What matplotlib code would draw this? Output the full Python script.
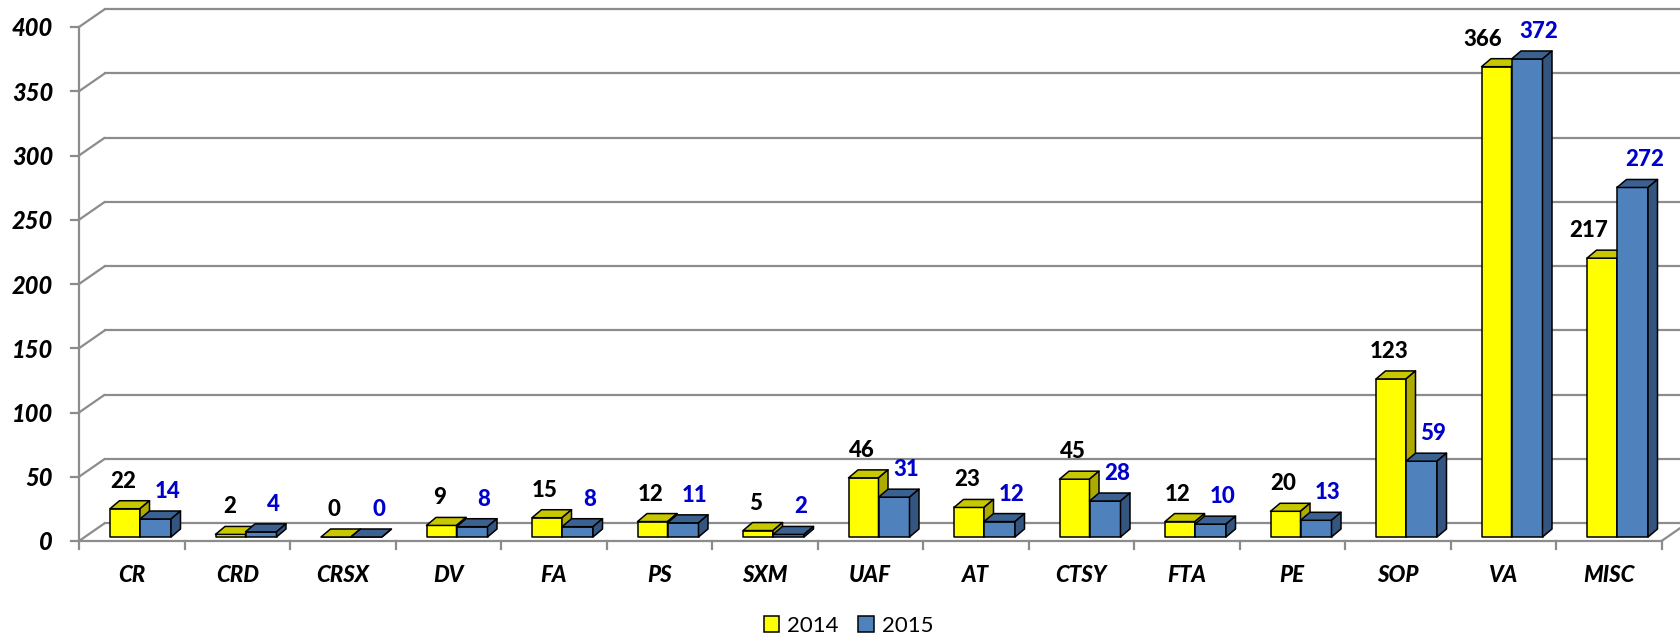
import matplotlib
matplotlib.use('Agg')
import matplotlib.pyplot as plt
from matplotlib.patches import Polygon, Patch

# ---------------- data ----------------
categories = ['CR', 'CRD', 'CRSX', 'DV', 'FA', 'PS', 'SXM', 'UAF', 'AT',
              'CTSY', 'FTA', 'PE', 'SOP', 'VA', 'MISC']
series_names = ['2014', '2015']
values_2014 = [22, 2, 0, 9, 15, 12, 5, 46, 23, 45, 12, 20, 123, 366, 217]
values_2015 = [14, 4, 0, 8, 8, 11, 2, 31, 12, 28, 10, 13, 59, 372, 272]
y_ticks = [0, 50, 100, 150, 200, 250, 300, 350, 400]

# ---------------- style ----------------
plt.rcParams['font.family'] = ['Lato', 'DejaVu Sans']
GRID = '#8c8c8c'
Y_FACE, Y_TOP, Y_SIDE = '#ffff00', '#c8c800', '#aeab00'
B_FACE, B_TOP, B_SIDE = '#4f81bd', '#3b6191', '#335580'
LBL_2015 = '#0000cc'
LBL_WEIGHT = 900
AX_WEIGHT = 900

W, H = 1680, 637
fig = plt.figure(figsize=(W / 100, H / 100), dpi=100)
ax = fig.add_axes([0, 0, 1, 1])
ax.axis('off')

PXC = 105.5   # pixels per category
PXV = 1.285   # pixels per value unit
X0, Y0 = 79, 96
ax.set_xlim(-X0 / PXC, (W - X0) / PXC)
ax.set_ylim(-Y0 / PXV, (H - Y0) / PXV)


def px(p):
    return p / PXC


def pv(p):
    return p / PXV


n = len(categories)
WDX, WDY = px(26), pv(18)
xmax = (W - X0) / PXC

# walls / gridlines
for v in y_ticks:
    ax.plot([0, WDX], [v, v + WDY], color=GRID, lw=1.6, zorder=1,
            solid_capstyle='butt')
    ax.plot([WDX, xmax], [v + WDY, v + WDY], color=GRID, lw=1.6, zorder=1)
    ax.plot([px(-8), 0], [v, v], color=GRID, lw=1.6, zorder=1)
    ax.text(px(-26), v - pv(2), str(v), ha='right', va='center',
            fontsize=17, fontweight=AX_WEIGHT, fontstyle='italic',
            color='black')

# front vertical axis and floor
ax.plot([0, 0], [0, y_ticks[-1]], color=GRID, lw=1.6, zorder=1)
ax.plot([0, n], [0, 0], color=GRID, lw=1.6, zorder=1)
ax.plot([n, n + WDX], [0, WDY], color=GRID, lw=1.6, zorder=1)
for i in range(n + 1):
    ax.plot([i, i], [0, pv(-8)], color=GRID, lw=1.6, zorder=1)

for i, c in enumerate(categories):
    ax.text(i + 0.5, pv(-35), c, ha='center', va='center', fontsize=16,
            fontweight=AX_WEIGHT, fontstyle='italic', color='black')

BDX, BDY = px(9.5), pv(8)
BASE = pv(4)


def box(x, w, h, face, top, side, z):
    x1 = x + w
    y0 = BASE
    y1 = BASE + h
    kw = dict(edgecolor='black', lw=1.1, joinstyle='round', zorder=z)
    ax.add_patch(Polygon([(x, y0), (x1, y0), (x1, y1), (x, y1)],
                         facecolor=face, **kw))
    ax.add_patch(Polygon([(x, y1), (x1, y1), (x1 + BDX, y1 + BDY),
                          (x + BDX, y1 + BDY)], facecolor=top, **kw))
    ax.add_patch(Polygon([(x1, y0), (x1 + BDX, y0 + BDY),
                          (x1 + BDX, y1 + BDY), (x1, y1)],
                         facecolor=side, **kw))


YW, BW = px(30), px(31)
for i in range(n):
    xa = i + px(31)
    xb = xa + YW
    box(xa, YW, values_2014[i], Y_FACE, Y_TOP, Y_SIDE, 3 + i * 2)
    box(xb, BW, values_2015[i], B_FACE, B_TOP, B_SIDE, 4 + i * 2)
    ya = BASE + values_2014[i] + pv(21)
    yb = BASE + values_2015[i] + pv(21)
    if values_2015[i] > values_2014[i]:
        ax.text(xb - px(9), ya, str(values_2014[i]), ha='right',
                va='baseline', fontsize=16, fontweight=LBL_WEIGHT,
                color='black', zorder=50)
    else:
        ax.text(xa + YW / 2 - px(2), ya, str(values_2014[i]), ha='center',
                va='baseline', fontsize=16, fontweight=LBL_WEIGHT,
                color='black', zorder=50)
    ax.text(xb + BW / 2 + px(12), yb, str(values_2015[i]), ha='center',
            va='baseline', fontsize=16, fontweight=LBL_WEIGHT,
            color=LBL_2015, zorder=50)

handles = [Patch(facecolor=Y_FACE, edgecolor='black', lw=1.1,
                 label=series_names[0]),
           Patch(facecolor=B_FACE, edgecolor='black', lw=1.1,
                 label=series_names[1])]
fig.legend(handles=handles, loc='center', bbox_to_anchor=(0.505, 0.018),
           ncol=2, frameon=False, fontsize=16, handlelength=0.7,
           handleheight=0.7, handletextpad=0.35, columnspacing=0.9,
           borderpad=0)

fig.savefig('out.png', dpi=100)
